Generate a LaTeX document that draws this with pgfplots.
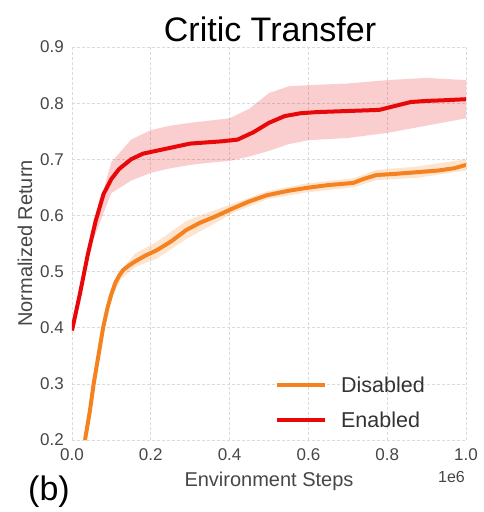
\documentclass[border=0pt]{standalone}
\usepackage{pgfplots}
\pgfplotsset{compat=1.18}
\usepackage{fontspec}
\setmainfont{Liberation Sans}
\definecolor{cred}{RGB}{232,8,10}
\definecolor{corange}{RGB}{245,130,32}
\definecolor{tickgray}{RGB}{70,70,70}
\definecolor{gridgray}{RGB}{218,218,218}
\begin{document}
\begin{tikzpicture}
\begin{axis}[
  at={(0,0)}, anchor=south west,
  scale only axis, width=394pt, height=393pt,
  xmin=0, xmax=1, ymin=0.2, ymax=0.9,
  xtick={0,0.2,0.4,0.6,0.8,1.0},
  ytick={0.2,0.3,0.4,0.5,0.6,0.7,0.8,0.9},
  xticklabels={0.0,0.2,0.4,0.6,0.8,1.0},
  yticklabel style={/pgf/number format/fixed,/pgf/number format/precision=1,/pgf/number format/fixed zerofill},
  /pgf/number format/assume math mode=true,
  axis line style={draw=none},
  major tick length=0pt,
  grid=major,
  major grid style={gridgray, dash pattern=on 3pt off 2pt, line width=0.6pt},
  tick label style={font=\fontsize{17}{17}\selectfont, text=tickgray, inner sep=0pt},
  xticklabel style={anchor=north, yshift=-8pt},
  yticklabel style={anchor=east, xshift=-8pt},
  legend style={draw=none, fill=none, inner sep=0pt, row sep=16pt,
    at={(rel axis cs:0.515,0.164)}, anchor=north west,
    nodes={font=\fontsize{21.5}{21.5}\selectfont, text=black!80, text height=15pt, text depth=0pt, inner sep=2pt}},
  legend cell align=left,
  legend image code/.code={\draw[#1, line width=4pt] (0pt,0pt) -- (48pt,0pt); \path (60pt,0pt);},
]
% Enabled band
\addplot[draw=none, fill=cred, fill opacity=0.2, forget plot] coordinates {
(0,0.40) (0.05,0.57) (0.1,0.695) (0.15,0.735) (0.2,0.752) (0.25,0.76) (0.3,0.765) (0.35,0.769) (0.4,0.773) (0.45,0.79) (0.5,0.818) (0.55,0.83) (0.6,0.832) (0.7,0.835) (0.8,0.841) (0.9,0.845) (1.0,0.841)
(1.0,0.773) (0.9,0.76) (0.8,0.747) (0.7,0.738) (0.6,0.734) (0.55,0.727) (0.5,0.715) (0.45,0.705) (0.4,0.697) (0.35,0.694) (0.3,0.69) (0.25,0.684) (0.2,0.676) (0.15,0.662) (0.1,0.64) (0.05,0.55) (0,0.39)
} -- cycle;
% Disabled band
\addplot[draw=none, fill=corange, fill opacity=0.22, forget plot] coordinates {
(0.033,0.2) (0.055,0.305) (0.079,0.405) (0.10,0.468) (0.125,0.503) (0.16,0.532) (0.215,0.553) (0.29,0.59) (0.36,0.609) (0.41,0.621) (0.495,0.643) (0.595,0.657) (0.714,0.666) (0.773,0.681) (0.875,0.687) (1.0,0.70)
(1.0,0.68) (0.875,0.667) (0.773,0.663) (0.714,0.65) (0.595,0.641) (0.495,0.629) (0.41,0.605) (0.36,0.585) (0.29,0.558) (0.215,0.523) (0.16,0.508) (0.125,0.487) (0.10,0.452) (0.079,0.395) (0.055,0.295) (0.033,0.2)
} -- cycle;
\addplot[corange, line width=4pt] coordinates {
(0.033,0.2) (0.045,0.25) (0.055,0.30) (0.067,0.35) (0.079,0.40) (0.09,0.435) (0.10,0.46) (0.11,0.48) (0.12,0.493) (0.13,0.503) (0.145,0.511) (0.16,0.518) (0.185,0.528) (0.215,0.538) (0.25,0.553) (0.29,0.574) (0.325,0.587) (0.36,0.597) (0.41,0.613) (0.45,0.625) (0.495,0.636) (0.55,0.644) (0.595,0.649) (0.65,0.654) (0.70,0.657) (0.714,0.658) (0.74,0.665) (0.773,0.672) (0.82,0.674) (0.875,0.677) (0.93,0.680) (0.97,0.684) (1.0,0.69)
};
\addlegendentry{Disabled}
\addplot[cred, line width=4pt] coordinates {
(0,0.395) (0.02,0.46) (0.04,0.53) (0.06,0.59) (0.08,0.638) (0.10,0.665) (0.12,0.683) (0.15,0.70) (0.18,0.71) (0.22,0.716) (0.26,0.722) (0.30,0.728) (0.34,0.730) (0.38,0.732) (0.42,0.735) (0.46,0.748) (0.50,0.765) (0.54,0.777) (0.58,0.782) (0.62,0.784) (0.66,0.785) (0.70,0.786) (0.74,0.787) (0.78,0.788) (0.82,0.795) (0.86,0.802) (0.90,0.804) (0.94,0.805) (1.0,0.807)
};
\addlegendentry{Enabled}
\end{axis}
\node[anchor=base, font=\fontsize{34}{34}\selectfont] at (198pt,398pt) {Critic Transfer};
\node[font=\fontsize{20}{20}\selectfont, text=tickgray, anchor=base] at (197pt,-46pt) {Environment Steps};
\node[font=\fontsize{20}{20}\selectfont, text=tickgray, rotate=90] at (-47pt,196.5pt) {Normalized Return};
\node[font=\fontsize{16}{16}\selectfont, text=tickgray, anchor=east, inner sep=0pt] at (393pt,-37pt) {1e6};
\node[font=\fontsize{34}{34}\selectfont] at (-23pt,-52pt) {(b)};
\pgfresetboundingbox
\path (-72pt,-72pt) rectangle (411pt,440pt);
\end{tikzpicture}
\end{document}
